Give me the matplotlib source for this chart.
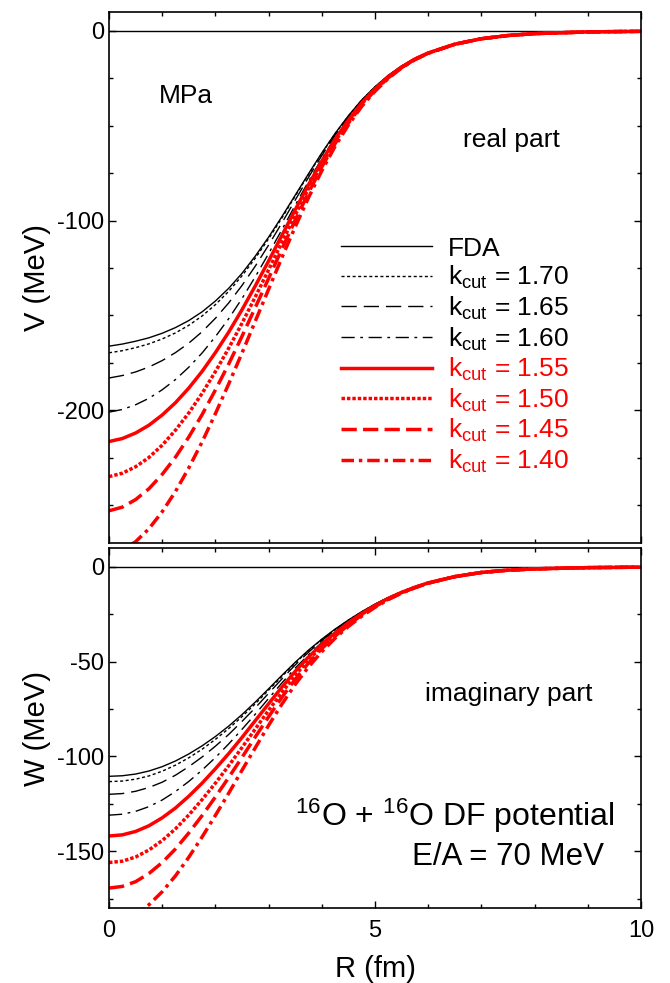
import numpy as np
import matplotlib
matplotlib.use('Agg')
import matplotlib.pyplot as plt
from matplotlib.ticker import MultipleLocator

plt.rcParams['font.family'] = ['Liberation Sans', 'DejaVu Sans']
plt.rcParams['mathtext.default'] = 'regular'
plt.rcParams['axes.unicode_minus'] = False
plt.rcParams['lines.scale_dashes'] = False

# radius grid (fm)
R = [0.0, 0.25, 0.5, 0.75, 1.0, 1.25, 1.5, 1.75, 2.0, 2.25, 2.5, 2.75, 3.0, 3.25, 3.5, 3.75,
     4.0, 4.25, 4.5, 4.75, 5.0, 5.25, 5.5, 5.75, 6.0, 6.5, 7.0, 7.5, 8.0, 9.0, 10.0]

labels = ['FDA', 'k$_{cut}$ = 1.70', 'k$_{cut}$ = 1.65', 'k$_{cut}$ = 1.60',
          'k$_{cut}$ = 1.55', 'k$_{cut}$ = 1.50', 'k$_{cut}$ = 1.45', 'k$_{cut}$ = 1.40']

# real part V (MeV)
V_fda = [-166.2, -165.1, -163.6, -161.8, -159.4, -156.4, -152.7, -148.1, -142.4, -135.7, -127.8, -118.7, -108.7,
         -97.9, -86.6, -75.3, -64.3, -54.0, -44.7, -36.4, -29.4, -23.4, -18.5, -14.5, -11.4,
         -6.9, -4.1, -2.4, -1.4, -0.5, -0.2]
V_170 = [-169.7, -168.6, -167.0, -165.0, -162.4, -159.2, -155.2, -150.3, -144.3, -137.3, -129.1, -119.8, -109.6,
         -98.6, -87.1, -75.7, -64.6, -54.2, -44.9, -36.5, -29.5, -23.5, -18.5, -14.5, -11.4,
         -6.9, -4.1, -2.4, -1.4, -0.5, -0.2]
V_165 = [-183.0, -181.7, -179.8, -177.2, -173.8, -169.6, -164.6, -158.6, -151.5, -143.4, -134.2, -124.0, -112.9,
         -101.2, -89.2, -77.2, -65.7, -55.0, -45.5, -36.9, -29.8, -23.6, -18.7, -14.6, -11.5,
         -6.9, -4.1, -2.4, -1.4, -0.5, -0.2]
V_160 = [-201.0, -199.6, -197.1, -193.7, -189.2, -183.8, -177.3, -169.8, -161.2, -151.7, -141.1, -129.6, -117.4,
         -104.8, -91.9, -79.3, -67.3, -56.2, -46.3, -37.5, -30.1, -23.9, -18.8, -14.7, -11.5,
         -6.9, -4.1, -2.4, -1.4, -0.5, -0.2]
V_155 = [-216.5, -214.9, -212.0, -207.9, -202.5, -196.0, -188.3, -179.5, -169.6, -158.8, -147.0, -134.4, -121.3,
         -107.8, -94.3, -81.1, -68.6, -57.1, -46.9, -38.0, -30.5, -24.1, -19.0, -14.8, -11.6,
         -7.0, -4.1, -2.4, -1.4, -0.5, -0.2]
V_150 = [-235.0, -233.2, -229.8, -224.9, -218.4, -210.5, -201.4, -191.1, -179.6, -167.3, -154.1, -140.2, -125.9,
         -111.5, -97.1, -83.2, -70.2, -58.3, -47.8, -38.5, -30.9, -24.4, -19.2, -14.9, -11.7,
         -7.0, -4.1, -2.4, -1.4, -0.5, -0.2]
V_145 = [-253.0, -251.1, -247.1, -241.4, -233.8, -224.7, -214.1, -202.3, -189.3, -175.6, -161.0, -145.8, -130.5,
         -115.0, -99.8, -85.3, -71.7, -59.4, -48.6, -39.1, -31.3, -24.7, -19.3, -15.0, -11.7,
         -7.0, -4.1, -2.4, -1.4, -0.5, -0.2]
V_140 = [-276.0, -273.9, -269.3, -262.5, -253.5, -242.8, -230.4, -216.7, -201.8, -186.1, -169.8, -153.0, -136.2,
         -119.5, -103.3, -87.9, -73.7, -60.8, -49.6, -39.8, -31.8, -25.0, -19.5, -15.2, -11.8,
         -7.0, -4.1, -2.4, -1.4, -0.5, -0.2]

# imaginary part W (MeV)
W_fda = [-110.5, -110.2, -109.3, -107.7, -105.4, -102.4, -98.7, -94.4, -89.5, -84.0, -77.9, -71.3, -64.3,
         -57.2, -50.3, -43.9, -38.1, -32.8, -28.0, -23.6, -19.6, -16.1, -13.1, -10.5, -8.3,
         -5.0, -2.9, -1.7, -1.0, -0.35, -0.1]
W_170 = [-113.3, -113.0, -112.0, -110.3, -107.8, -104.6, -100.7, -96.2, -91.0, -85.3, -79.0, -72.2, -65.0,
         -57.8, -50.7, -44.2, -38.3, -33.0, -28.1, -23.7, -19.7, -16.1, -13.1, -10.5, -8.3,
         -5.0, -2.9, -1.7, -1.0, -0.35, -0.1]
W_165 = [-120.0, -119.6, -118.4, -116.4, -113.6, -109.9, -105.4, -100.3, -94.6, -88.4, -81.5, -74.3, -66.7,
         -59.1, -51.7, -45.0, -38.9, -33.4, -28.4, -23.9, -19.8, -16.2, -13.2, -10.6, -8.3,
         -5.0, -2.9, -1.7, -1.0, -0.35, -0.1]
W_160 = [-131.0, -130.5, -129.0, -126.5, -123.0, -118.5, -113.2, -107.2, -100.6, -93.4, -85.7, -77.7, -69.4,
         -61.2, -53.4, -46.3, -39.9, -34.1, -28.9, -24.2, -20.0, -16.4, -13.3, -10.6, -8.4,
         -5.0, -2.9, -1.7, -1.0, -0.35, -0.1]
W_155 = [-142.0, -141.4, -139.6, -136.6, -132.4, -127.2, -121.0, -114.1, -106.5, -98.5, -90.0, -81.1, -72.2,
         -63.4, -55.1, -47.5, -40.8, -34.8, -29.4, -24.6, -20.3, -16.6, -13.4, -10.7, -8.4,
         -5.1, -2.9, -1.7, -1.0, -0.35, -0.1]
W_150 = [-156.0, -155.3, -153.1, -149.4, -144.4, -138.2, -130.9, -122.8, -114.1, -104.9, -95.3, -85.5, -75.7,
         -66.2, -57.2, -49.1, -42.0, -35.6, -30.0, -25.0, -20.6, -16.8, -13.5, -10.8, -8.5,
         -5.1, -2.9, -1.7, -1.0, -0.35, -0.1]
W_145 = [-169.5, -168.6, -166.1, -161.8, -156.0, -148.8, -140.4, -131.2, -121.4, -111.1, -100.5, -89.7, -79.1,
         -68.8, -59.3, -50.7, -43.1, -36.5, -30.6, -25.4, -20.9, -17.0, -13.7, -10.9, -8.5,
         -5.1, -2.9, -1.7, -1.0, -0.35, -0.1]
W_140 = [-187.5, -186.5, -183.4, -178.3, -171.4, -163.0, -153.2, -142.5, -131.1, -119.4, -107.3, -95.4, -83.6,
         -72.4, -62.0, -52.8, -44.7, -37.6, -31.4, -26.0, -21.3, -17.2, -13.8, -11.0, -8.6,
         -5.1, -2.9, -1.7, -1.0, -0.35, -0.1]

V_all = [V_fda, V_170, V_165, V_160, V_155, V_150, V_145, V_140]
W_all = [W_fda, W_170, W_165, W_160, W_155, W_150, W_145, W_140]

# line styles: black thin for first four, red thick for last four
styles = [
    dict(color='k', lw=1.0, ls='-'),
    dict(color='k', lw=1.0, dashes=(2.2, 1.8)),
    dict(color='k', lw=1.0, dashes=(11, 5)),
    dict(color='k', lw=1.0, dashes=(9.5, 4, 2, 4)),
    dict(color='red', lw=2.5, ls='-'),
    dict(color='red', lw=2.5, dashes=(2.5, 1.4)),
    dict(color='red', lw=2.5, dashes=(11, 4.5)),
    dict(color='red', lw=2.5, dashes=(9, 3.5, 2.5, 3.5)),
]

fig = plt.figure(figsize=(6.7, 9.83), dpi=100)
ax1 = fig.add_axes([0.1627, 0.4476, 0.794, 0.5402])
ax2 = fig.add_axes([0.1627, 0.0763, 0.794, 0.3662])

for ax in (ax1, ax2):
    ax.axhline(0, color='k', lw=1.0)

for ys, st, lab in zip(V_all, styles, labels):
    ax1.plot(R, ys, label=lab, **st)
for ys, st in zip(W_all, styles):
    ax2.plot(R, ys, **st)

ax1.set_xlim(0, 10)
ax1.set_ylim(-270, 10)
ax2.set_xlim(0, 10)
ax2.set_ylim(-180, 10)

ax1.yaxis.set_major_locator(MultipleLocator(100))
ax1.yaxis.set_minor_locator(MultipleLocator(25))
ax2.yaxis.set_major_locator(MultipleLocator(50))
ax2.yaxis.set_minor_locator(MultipleLocator(25))
for ax in (ax1, ax2):
    ax.xaxis.set_major_locator(MultipleLocator(5))
    ax.xaxis.set_minor_locator(MultipleLocator(1))
    ax.tick_params(which='both', direction='in', top=True, right=True, labelsize=17, width=1.0)
    ax.tick_params(which='major', length=5)
    ax.tick_params(which='minor', length=3)
    for s in ax.spines.values():
        s.set_linewidth(1.2)
ax1.tick_params(labelbottom=False)
ax2.tick_params(axis='x', pad=9)

ax1.set_ylabel('V (MeV)', fontsize=21, labelpad=4)
ax2.set_ylabel('W (MeV)', fontsize=21, labelpad=4)
ax2.set_xlabel('R (fm)', fontsize=21, labelpad=9)

ax1.text(0.094, 0.842, 'MPa', transform=ax1.transAxes, fontsize=19, va='center')
ax1.text(0.665, 0.759, 'real part', transform=ax1.transAxes, fontsize=19, va='center')
ax2.text(0.594, 0.594, 'imaginary part', transform=ax2.transAxes, fontsize=19, va='center')
ax2.text(0.951, 0.256, '$^{16}$O + $^{16}$O DF potential', transform=ax2.transAxes,
         fontsize=23, ha='right', va='center')
ax2.text(0.930, 0.142, 'E/A = 70 MeV', transform=ax2.transAxes,
         fontsize=22.5, ha='right', va='center')

leg = ax1.legend(loc='upper left', bbox_to_anchor=(0.436, 0.577), frameon=False,
                 fontsize=19, handlelength=3.45, handletextpad=0.6, labelspacing=0.13,
                 borderpad=0, borderaxespad=0, labelcolor='linecolor')

fig.savefig('out.png', dpi=100)
